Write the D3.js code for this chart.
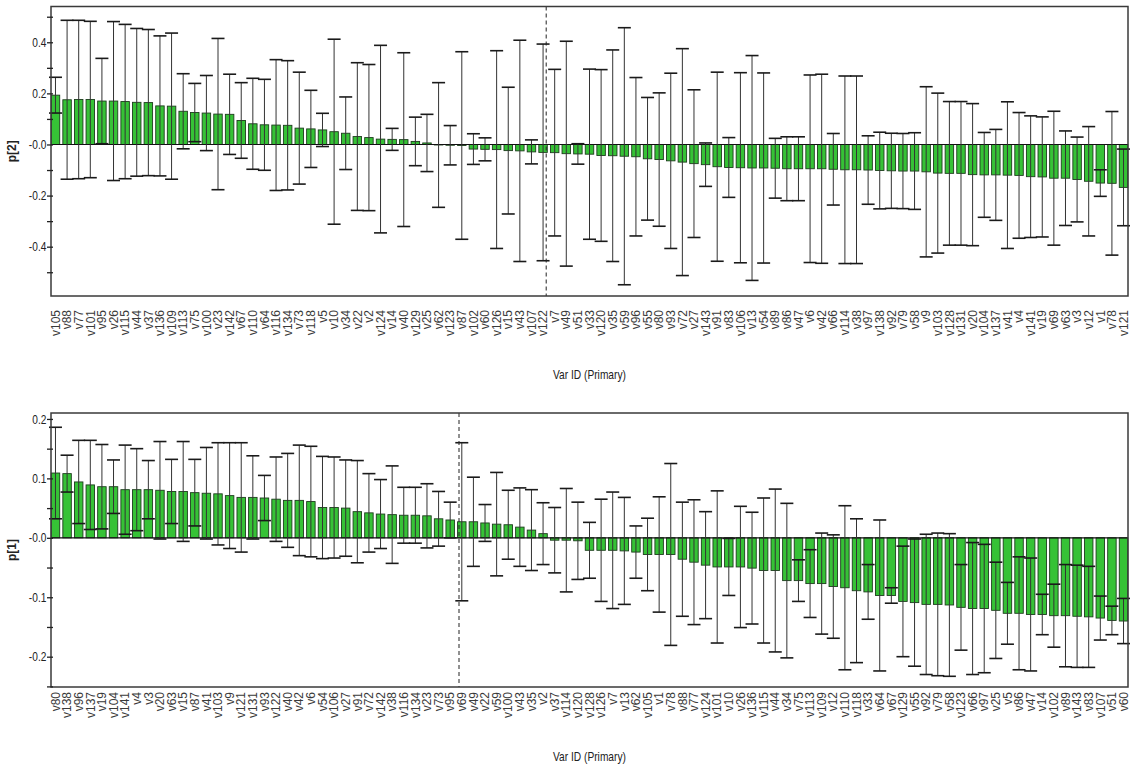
<!DOCTYPE html>
<html>
<head>
<meta charset="utf-8">
<script src="https://cdn.jsdelivr.net/npm/d3@7"></script>
<style>
  body { margin: 0; background: #fff; }
  svg { display: block; }
</style>
</head>
<body>
<svg id="chart" width="1133" height="770"></svg>
<script>
// ---- p[2] loadings (sorted), with jack-knife confidence half-widths ----
const varsP2 = ["v105","v88","v77","v101","v95","v26","v115","v44","v37","v136","v109","v113","v75","v100","v23","v142","v67","v110","v64","v116","v134","v73","v118","v5","v10","v34","v22","v2","v124","v14","v40","v129","v25","v62","v123","v87","v102","v60","v126","v15","v43","v107","v122","v7","v49","v51","v33","v120","v35","v59","v96","v55","v80","v93","v72","v27","v143","v91","v83","v106","v13","v54","v89","v86","v47","v6","v42","v66","v114","v38","v97","v138","v92","v79","v58","v9","v103","v128","v131","v20","v104","v137","v41","v4","v141","v19","v69","v63","v3","v12","v1","v78","v121"];
const valsP2 = [0.193,0.175,0.176,0.176,0.17,0.17,0.168,0.165,0.164,0.151,0.15,0.13,0.125,0.123,0.119,0.118,0.094,0.081,0.077,0.076,0.075,0.064,0.061,0.057,0.05,0.044,0.031,0.027,0.021,0.02,0.019,0.012,0.006,-0.002,-0.003,-0.004,-0.018,-0.019,-0.02,-0.024,-0.025,-0.029,-0.031,-0.032,-0.036,-0.037,-0.038,-0.043,-0.044,-0.046,-0.048,-0.056,-0.059,-0.064,-0.069,-0.075,-0.079,-0.087,-0.09,-0.091,-0.092,-0.092,-0.093,-0.095,-0.095,-0.095,-0.095,-0.097,-0.099,-0.099,-0.1,-0.102,-0.103,-0.104,-0.104,-0.107,-0.112,-0.113,-0.113,-0.118,-0.119,-0.119,-0.12,-0.121,-0.126,-0.127,-0.132,-0.132,-0.137,-0.144,-0.151,-0.152,-0.168];
const ciP2 = [0.07,0.311,0.31,0.306,0.167,0.311,0.302,0.289,0.286,0.274,0.286,0.147,0.114,0.147,0.296,0.157,0.148,0.178,0.178,0.256,0.253,0.219,0.151,0.065,0.362,0.142,0.289,0.286,0.367,0.043,0.34,0.095,0.112,0.244,0.077,0.367,0.06,0.045,0.387,0.248,0.433,0.047,0.424,0.326,0.44,0.04,0.333,0.336,0.414,0.503,0.31,0.24,0.261,0.343,0.444,0.289,0.085,0.37,0.117,0.372,0.44,0.372,0.117,0.125,0.125,0.367,0.37,0.14,0.367,0.367,0.134,0.15,0.147,0.147,0.15,0.333,0.313,0.281,0.281,0.278,0.166,0.178,0.287,0.246,0.238,0.235,0.262,0.185,0.166,0.214,0.052,0.281,0.15];

// ---- p[1] loadings (sorted), with jack-knife confidence half-widths ----
const varsP1 = ["v80","v138","v96","v137","v19","v104","v141","v4","v3","v20","v63","v15","v87","v41","v103","v9","v121","v131","v93","v122","v40","v42","v6","v54","v106","v27","v91","v72","v142","v38","v116","v134","v23","v73","v95","v69","v49","v22","v59","v100","v43","v35","v2","v37","v114","v120","v128","v126","v7","v13","v62","v105","v1","v78","v88","v77","v124","v101","v10","v26","v136","v115","v44","v34","v75","v113","v109","v12","v110","v118","v33","v64","v67","v129","v55","v92","v79","v58","v123","v66","v97","v25","v5","v86","v47","v14","v102","v89","v143","v83","v107","v51","v60"];
const valsP1 = [0.109,0.108,0.094,0.089,0.086,0.086,0.081,0.081,0.081,0.08,0.078,0.078,0.076,0.075,0.074,0.071,0.068,0.068,0.067,0.065,0.063,0.063,0.061,0.051,0.051,0.05,0.044,0.042,0.04,0.039,0.038,0.038,0.037,0.032,0.03,0.027,0.027,0.025,0.023,0.022,0.018,0.013,0.007,-0.004,-0.004,-0.005,-0.021,-0.021,-0.021,-0.022,-0.024,-0.028,-0.028,-0.028,-0.036,-0.041,-0.046,-0.049,-0.049,-0.049,-0.051,-0.055,-0.055,-0.072,-0.072,-0.077,-0.077,-0.082,-0.084,-0.089,-0.091,-0.097,-0.097,-0.107,-0.109,-0.112,-0.112,-0.113,-0.117,-0.119,-0.119,-0.122,-0.127,-0.127,-0.129,-0.129,-0.131,-0.131,-0.132,-0.133,-0.135,-0.139,-0.14];
const ciP1 = [0.077,0.031,0.07,0.075,0.071,0.045,0.075,0.069,0.049,0.082,0.054,0.084,0.056,0.077,0.086,0.089,0.092,0.07,0.038,0.071,0.079,0.093,0.093,0.086,0.085,0.081,0.086,0.066,0.058,0.082,0.047,0.047,0.054,0.046,0.03,0.133,0.075,0.031,0.087,0.058,0.066,0.068,0.052,0.055,0.087,0.065,0.047,0.086,0.098,0.09,0.044,0.061,0.097,0.153,0.096,0.105,0.09,0.128,0.048,0.102,0.094,0.122,0.137,0.13,0.035,0.057,0.085,0.087,0.138,0.121,0.046,0.127,0.013,0.093,0.107,0.118,0.12,0.12,0.072,0.111,0.108,0.081,0.052,0.095,0.095,0.034,0.053,0.086,0.086,0.085,0.037,0.024,0.038];

// ---- axis ticks ----
const tickValsP2 = [0.4, 0.2, 0, -0.2, -0.4];
const tickLabelsP2 = ["0.4", "0.2", "-0.0", "-0.2", "-0.4"];
const minorTicksP2 = [0.5, 0.3, 0.1, -0.1, -0.3, -0.5];
const tickValsP1 = [0.2, 0.1, 0, -0.1, -0.2];
const tickLabelsP1 = ["0.2", "0.1", "-0.0", "-0.1", "-0.2"];
const minorTicksP1 = [0.15, 0.05, -0.05, -0.15, -0.25];

const xTitle = "Var ID (Primary)";

const svg = d3.select("#chart");
const sans = "'Liberation Sans',Arial,sans-serif";

function drawPanel(cfg) {
  const { names, values, ci, box, yDomain, ticks, tickLabels, minor, yTitle, labelY, titleY, dash } = cfg;
  const g = svg.append("g");

  const x = d3.scaleBand().domain(names).range([box.left, box.right]).paddingInner(0.27).paddingOuter(0.02);
  const y = d3.scaleLinear().domain(yDomain).range([box.bottom, box.top]);
  const bw = x.bandwidth();
  const cx = d => x(d) + bw / 2;
  const rows = names.map((n, i) => ({ n, v: values[i], c: ci[i] }));

  // bars
  g.append("g").selectAll("rect").data(rows).join("rect")
    .attr("x", d => x(d.n))
    .attr("width", bw)
    .attr("y", d => y(Math.max(0, d.v)))
    .attr("height", d => Math.abs(y(d.v) - y(0)))
    .attr("fill", "#36c236")
    .attr("stroke", "#1d3d1d")
    .attr("stroke-width", 0.9);

  // zero line
  g.append("line")
    .attr("x1", box.left).attr("x2", box.right)
    .attr("y1", y(0)).attr("y2", y(0))
    .attr("stroke", "#111").attr("stroke-width", 1.2);

  // confidence intervals
  const eb = g.append("g");
  eb.selectAll("line.v").data(rows).join("line").attr("class", "v")
    .attr("x1", d => cx(d.n)).attr("x2", d => cx(d.n))
    .attr("y1", d => y(d.v + d.c)).attr("y2", d => y(d.v - d.c))
    .attr("stroke", "#333").attr("stroke-width", 1);
  const capW = 6.5;
  ["hi", "lo"].forEach(side => {
    eb.selectAll("line." + side).data(rows).join("line").attr("class", side)
      .attr("x1", d => cx(d.n) - capW).attr("x2", d => cx(d.n) + capW)
      .attr("y1", d => y(side === "hi" ? d.v + d.c : d.v - d.c))
      .attr("y2", d => y(side === "hi" ? d.v + d.c : d.v - d.c))
      .attr("stroke", "#1a1a1a").attr("stroke-width", 1.6);
  });

  // dashed marker line
  const dx = cx(dash.name) + dash.shift * x.step();
  g.append("line")
    .attr("x1", dx).attr("x2", dx).attr("y1", box.top).attr("y2", box.bottom)
    .attr("stroke", "#222").attr("stroke-width", 1).attr("stroke-dasharray", "4,3");

  // frame
  g.append("rect")
    .attr("x", box.left).attr("y", box.top)
    .attr("width", box.right - box.left).attr("height", box.bottom - box.top)
    .attr("fill", "none").attr("stroke", "#3a3a3a").attr("stroke-width", 1.5);

  // y axis: labelled ticks + minor ticks
  const ya = g.append("g").attr("transform", `translate(${box.left},0)`)
    .call(d3.axisLeft(y).tickValues(ticks).tickFormat((d, i) => tickLabels[i]).tickSize(4).tickPadding(2));
  ya.select(".domain").remove();
  ya.selectAll(".tick line").attr("x1", 2).attr("stroke", "#222").attr("stroke-width", 1.3);
  ya.selectAll(".tick text")
    .attr("transform", "scale(0.78,1)")
    .attr("font-family", sans).attr("font-size", 13).attr("fill", "#222");
  const ym = g.append("g").attr("transform", `translate(${box.left},0)`)
    .call(d3.axisLeft(y).tickValues(minor).tickFormat("").tickSize(4));
  ym.select(".domain").remove();
  ym.selectAll(".tick line").attr("x1", 2).attr("stroke", "#222").attr("stroke-width", 1.3);

  // x category labels
  const xa = g.append("g").attr("transform", `translate(0,${labelY})`)
    .call(d3.axisBottom(x).tickSize(0));
  xa.select(".domain").remove();
  xa.selectAll(".tick text")
    .attr("transform", "rotate(-90)")
    .attr("text-anchor", "end")
    .attr("x", 0).attr("y", 0).attr("dy", "0.35em")
    .attr("font-family", sans).attr("font-size", 12).attr("fill", "#3a3a3a");

  // titles
  g.append("g")
    .attr("transform", `translate(${(box.left + box.right) / 2},${titleY}) scale(0.85,1)`)
    .append("text")
    .attr("text-anchor", "middle")
    .attr("font-family", sans).attr("font-size", 12).attr("fill", "#222")
    .text(xTitle);
  g.append("text")
    .attr("transform", `translate(16,${(box.top + box.bottom) / 2}) rotate(-90)`)
    .attr("text-anchor", "middle")
    .attr("font-family", sans).attr("font-size", 12).attr("font-weight", "bold").attr("fill", "#222")
    .text(yTitle);
}

drawPanel({
  names: varsP2, values: valsP2, ci: ciP2,
  box: { left: 51, right: 1128, top: 6.5, bottom: 296 },
  yDomain: [-0.593, 0.54],
  ticks: tickValsP2, tickLabels: tickLabelsP2, minor: minorTicksP2,
  yTitle: "p[2]", labelY: 310, titleY: 379,
  dash: { name: "v122", shift: 0.27 }
});

drawPanel({
  names: varsP1, values: valsP1, ci: ciP1,
  box: { left: 51, right: 1128, top: 413, bottom: 687 },
  yDomain: [-0.251, 0.21],
  ticks: tickValsP1, tickLabels: tickLabelsP1, minor: minorTicksP1,
  yTitle: "p[1]", labelY: 692, titleY: 761,
  dash: { name: "v69", shift: -0.24 }
});
</script>
</body>
</html>
